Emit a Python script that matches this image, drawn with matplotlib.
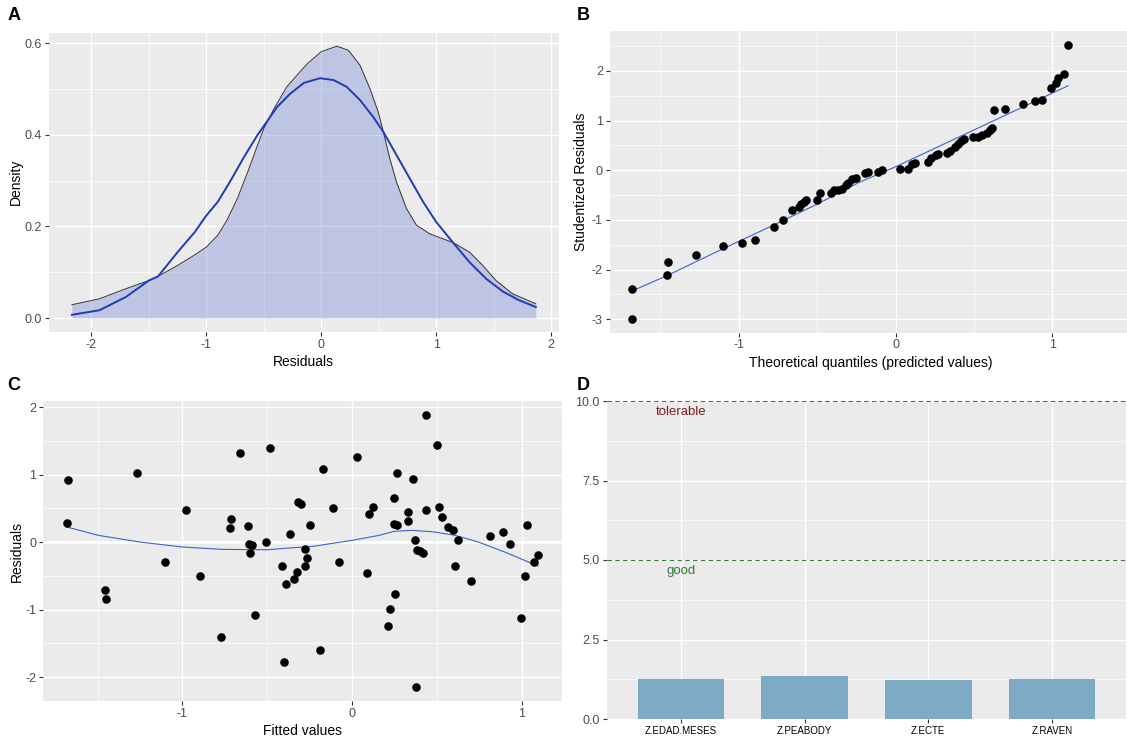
import matplotlib
matplotlib.use('Agg')
import matplotlib.pyplot as plt

plt.rcParams['font.family'] = ['Liberation Sans', 'DejaVu Sans']
plt.rcParams['axes.unicode_minus'] = False

# ---------------- data ----------------
# Panel A: kernel density of residuals (black outline) and normal curve (blue)
dens_x = [-2.17, -1.93, -1.70, -1.50, -1.42, -1.25, -1.10, -1.00, -0.90, -0.82, -0.73, -0.64,
          -0.56, -0.50, -0.41, -0.30, -0.21, -0.12, 0.00, 0.136, 0.237, 0.338, 0.424, 0.496,
          0.54, 0.597, 0.655, 0.742, 0.828, 0.944, 1.06, 1.146, 1.29, 1.405, 1.52, 1.665, 1.867]
dens_y = [0.029, 0.042, 0.064, 0.082, 0.091, 0.115, 0.138, 0.155, 0.181, 0.214, 0.261, 0.319,
          0.374, 0.414, 0.458, 0.505, 0.531, 0.556, 0.582, 0.594, 0.585, 0.552, 0.501, 0.450,
          0.407, 0.348, 0.297, 0.239, 0.203, 0.184, 0.173, 0.165, 0.144, 0.115, 0.082, 0.053, 0.031]
norm_x = [-2.17, -1.93, -1.70, -1.50, -1.42, -1.25, -1.10, -1.00, -0.90, -0.787, -0.672, -0.557,
          -0.385, -0.271, -0.15, -0.01, 0.107, 0.222, 0.338, 0.453, 0.54, 0.655, 0.77, 0.886,
          1.00, 1.146, 1.29, 1.434, 1.58, 1.72, 1.867]
norm_y = [0.007, 0.017, 0.046, 0.082, 0.091, 0.144, 0.188, 0.224, 0.254, 0.301, 0.352, 0.399,
          0.461, 0.490, 0.514, 0.524, 0.520, 0.505, 0.476, 0.439, 0.407, 0.356, 0.305, 0.254,
          0.210, 0.165, 0.122, 0.086, 0.058, 0.039, 0.024]

# Panel B: studentized residuals vs theoretical quantiles
qq_x = [-1.683, -1.679, -1.457, -1.453, -1.27, -1.10, -0.982, -0.898, -0.772, -0.715, -0.661, -0.614,
        -0.600, -0.587, -0.571, -0.504, -0.482, -0.409, -0.39, -0.364, -0.339, -0.319, -0.303, -0.276,
        -0.252, -0.192, -0.173, -0.114, -0.084, 0.029, 0.082, 0.102, 0.122, 0.21, 0.229, 0.259,
        0.273, 0.327, 0.347, 0.376, 0.396, 0.416, 0.435, 0.494, 0.524, 0.553, 0.582, 0.602,
        0.612, 0.625, 0.70, 0.814, 0.892, 0.931, 0.994, 1.024, 1.035, 1.073, 1.10]
qq_y = [-2.99, -2.385, -2.109, -1.853, -1.705, -1.516, -1.462, -1.408, -1.146, -0.997, -0.809, -0.741,
        -0.687, -0.640, -0.606, -0.606, -0.465, -0.465, -0.404, -0.398, -0.384, -0.296, -0.249, -0.182,
        -0.148, -0.047, -0.034, -0.027, 0.007, 0.034, 0.034, 0.121, 0.155, 0.175, 0.243, 0.310,
        0.330, 0.350, 0.390, 0.472, 0.526, 0.580, 0.627, 0.660, 0.674, 0.708, 0.748, 0.815,
        0.849, 1.213, 1.240, 1.341, 1.388, 1.415, 1.651, 1.752, 1.860, 1.940, 2.520]
qqline_x = [-1.68, -1.457, -1.10, -0.768, -0.492, -0.236, 0.0, 0.50, 1.10]
qqline_y = [-2.43, -2.12, -1.58, -1.09, -0.67, -0.25, 0.07, 0.81, 1.70]

# Panel C: residuals vs fitted values
fit_x = [-1.675, -1.682, -1.455, -1.449, -1.271, -1.102, -0.982, -0.898, -0.773, -0.72, -0.714, -0.663,
         -0.614, -0.61, -0.59, -0.604, -0.575, -0.506, -0.484, -0.412, -0.39, -0.4, -0.363, -0.345,
         -0.322, -0.32, -0.299, -0.275, -0.264, -0.275, -0.246, -0.191, -0.172, -0.113, -0.078, 0.029,
         0.086, 0.102, 0.125, 0.211, 0.227, 0.248, 0.248, 0.268, 0.254, 0.264, 0.33, 0.33,
         0.357, 0.369, 0.375, 0.385, 0.404, 0.42, 0.434, 0.434, 0.5, 0.516, 0.531, 0.564,
         0.598, 0.609, 0.625, 0.701, 0.814, 0.893, 0.93, 0.996, 1.021, 1.033, 1.072, 1.098]
res_y = [0.921, 0.287, -0.708, -0.851, 1.03, -0.297, 0.48, -0.5, -1.401, 0.213, 0.342, 1.322,
         0.243, -0.025, -0.05, -0.158, -1.079, -0.005, 1.386, -0.351, -0.624, -1.772, 0.119, -0.545,
         -0.446, 0.589, 0.569, -0.099, -0.233, -0.361, 0.257, -1.594, 1.084, 0.505, -0.297, 1.262,
         -0.46, 0.421, 0.52, -1.238, -0.99, 0.658, 0.272, 0.257, -0.767, 1.03, 0.45, 0.312,
         0.931, 0.025, -2.153, -0.114, -0.139, -0.158, 1.886, 0.48, 1.431, 0.52, 0.366, 0.218,
         0.173, -0.351, 0.025, -0.574, 0.089, 0.144, -0.025, -1.124, -0.505, 0.257, -0.292, -0.193]
smooth_x = [-1.682, -1.496, -1.251, -1.0, -0.761, -0.496, -0.426, -0.23, 0.0, 0.16, 0.248, 0.355,
            0.473, 0.609, 0.746, 0.902, 1.098]
smooth_y = [0.223, 0.099, 0.0, -0.074, -0.109, -0.114, -0.099, -0.064, 0.025, 0.099, 0.158, 0.173,
            0.153, 0.099, 0.0, -0.149, -0.356]

# Panel D: VIF
vif_names = ['Z.EDAD.MESES', 'Z.PEABODY', 'Z.ECTE', 'Z.RAVEN']
vif_vals = [1.27, 1.36, 1.24, 1.27]
thresholds = [5.0, 10.0]
threshold_labels = ['good', 'tolerable']

# ---------------- figure ----------------
W, H = 1127, 738
fig = plt.figure(figsize=(W / 100, H / 100), dpi=100)

def px_axes(l, r, t, b):
    return fig.add_axes([l / W, 1 - b / H, (r - l) / W, (b - t) / H])

BG = '#EBEBEB'
TICKC = '#4D4D4D'

def style(ax, xmaj, xmin, ymaj, ymin):
    ax.set_facecolor(BG)
    for s in ax.spines.values():
        s.set_visible(False)
    ax.set_xticks(xmaj)
    ax.set_xticks(xmin, minor=True)
    ax.set_yticks(ymaj)
    ax.set_yticks(ymin, minor=True)
    ax.grid(which='major', color='white', lw=1.0)
    ax.grid(which='minor', color='white', lw=0.5)
    ax.set_axisbelow(True)
    ax.tick_params(which='major', length=3, width=0.8, color='#333333',
                   labelsize=9, labelcolor=TICKC, pad=2)
    ax.tick_params(which='minor', length=0)

# ---- A ----
axA = px_axes(48.7, 559, 32.6, 331.6)
axA.fill_between(dens_x, dens_y, 0, color='#5C76D4', alpha=0.32, lw=0, zorder=2)
axA.plot(dens_x, dens_y, color='#333333', lw=0.7, zorder=3)
axA.plot(norm_x, norm_y, color='#1E3CB4', lw=1.4, zorder=4)
style(axA, [-2, -1, 0, 1, 2], [-1.5, -0.5, 0.5, 1.5], [0, 0.2, 0.4, 0.6], [0.1, 0.3, 0.5])
axA.set_yticklabels(['0.0', '0.2', '0.4', '0.6'])
axA.set_xlabel('Residuals', fontsize=10, labelpad=3)
axA.set_ylabel('Density', fontsize=10, labelpad=1)

# ---- B ----
axB = px_axes(609.8, 1130.8, 31.3, 332.5)
axB.plot(qqline_x, qqline_y, color='#3F62CC', lw=0.8, zorder=2)
axB.scatter(qq_x, qq_y, s=38, color='black', lw=0, zorder=3)
style(axB, [-1, 0, 1], [-1.5, -0.5, 0.5, 1.5], [-3, -2, -1, 0, 1, 2],
      [-2.5, -1.5, -0.5, 0.5, 1.5, 2.5])
axB.set_xlabel('Theoretical quantiles (predicted values)', fontsize=10, labelpad=3)
axB.set_ylabel('Studentized Residuals', fontsize=10, labelpad=3)

# ---- C ----
axC = px_axes(43.3, 561.7, 401.1, 701)
axC.axhline(0, color='white', lw=1.8, zorder=1)
axC.plot(smooth_x, smooth_y, color='#3F62CC', lw=0.8, zorder=2)
axC.scatter(fit_x, res_y, s=38, color='black', lw=0, zorder=3)
style(axC, [-1, 0, 1], [-1.5, -0.5, 0.5], [-2, -1, 0, 1, 2], [-1.5, -0.5, 0.5, 1.5])
axC.set_xlabel('Fitted values', fontsize=10, labelpad=3)
axC.set_ylabel('Residuals', fontsize=10, labelpad=1)

# ---- D ----
axD = px_axes(606.8, 1126.2, 401, 719)
axD.bar(vif_names, vif_vals, width=0.7, color='#7EAAC6', zorder=2)
axD.set_xlim(-0.6, len(vif_names) - 0.4)
axD.set_ylim(0, 10)
style(axD, list(range(len(vif_names))), [], [0, 2.5, 5, 7.5, 10], [1.25, 3.75, 6.25, 8.75])
axD.set_xticklabels(vif_names)
axD.set_yticklabels(['0.0', '2.5', '5.0', '7.5', '10.0'])
axD.tick_params(axis='x', labelsize=7, labelcolor='black')
line_cols = ['#3A7F3A', '#A84848']
text_cols = ['#2E7D32', '#8B1A1A']
for thr, lab, lc, tc in zip(thresholds, threshold_labels, line_cols, text_cols):
    axD.axhline(thr, color=lc, lw=0.8, ls=(0, (4, 3)), zorder=3, clip_on=False)
    axD.text(0, thr - 0.35, lab, color=tc, fontsize=9.5, ha='center', va='center', zorder=4)

# panel letters
for lab, x, y in [('A', 14, 15), ('B', 583, 15), ('C', 14, 385), ('D', 583, 385)]:
    fig.text(x / W, 1 - y / H, lab, fontsize=13, fontweight='bold', ha='center', va='center')

fig.savefig('out.png', dpi=100)
